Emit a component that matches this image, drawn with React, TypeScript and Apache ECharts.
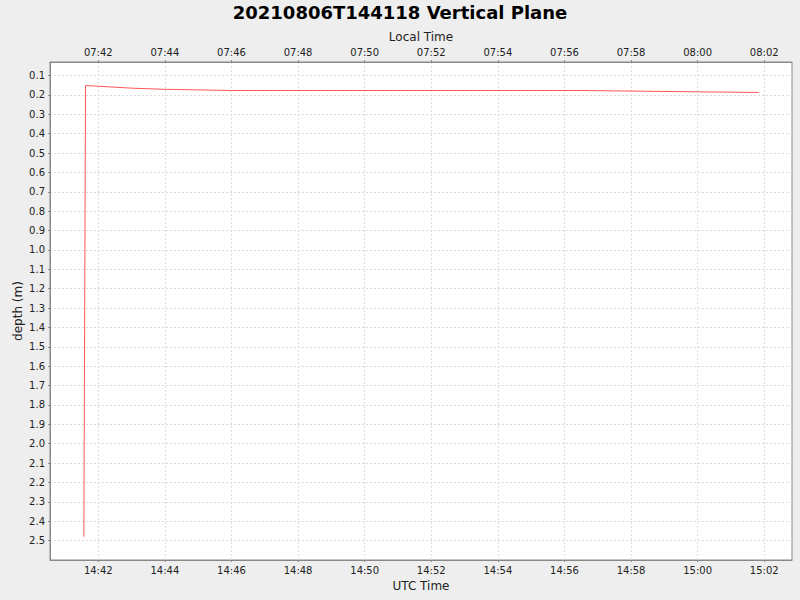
import React, { useEffect, useRef } from 'react';
import * as echarts from 'echarts';

// depth samples (UTC time, metres)
const sampleTimes = [
  '14:41:34', '14:41:37', '14:42:00', '14:43:00', '14:44:00', '14:45:00',
  '14:46:00', '14:56:30', '14:58:00', '15:00:00', '15:01:50',
];
const depths = [2.48, 0.152, 0.155, 0.165, 0.171, 0.174, 0.177, 0.177, 0.18, 0.184, 0.187];

const utcTicks = [
  '14:42', '14:44', '14:46', '14:48', '14:50', '14:52',
  '14:54', '14:56', '14:58', '15:00', '15:02',
];
const localTicks = [
  '07:42', '07:44', '07:46', '07:48', '07:50', '07:52',
  '07:54', '07:56', '07:58', '08:00', '08:02',
];
const depthTicks = [
  0.1, 0.2, 0.3, 0.4, 0.5, 0.6, 0.7, 0.8, 0.9, 1.0, 1.1, 1.2, 1.3,
  1.4, 1.5, 1.6, 1.7, 1.8, 1.9, 2.0, 2.1, 2.2, 2.3, 2.4, 2.5,
];

const xStart = '14:40:33';
const xEnd = '15:02:50';

const toSec = (t: string) => {
  const p = t.split(':').map(Number);
  return p[0] * 3600 + p[1] * 60 + (p[2] || 0);
};

const utcTickSecs = utcTicks.map(toSec);
const font = 'DejaVu Sans';

const App = () => {
  const chartRef = useRef<HTMLDivElement>(null);

  useEffect(() => {
    document.body.style.margin = '0';
    const chart = echarts.init(chartRef.current, null, { renderer: 'svg' });

    const gridLine = { show: true, lineStyle: { color: '#dcdcdc', type: [2, 2] as any, width: 1 } };
    const axisText = { fontFamily: font, fontSize: 10, color: '#222' };

    chart.setOption({
      animation: false,
      backgroundColor: '#eeeeee',
      textStyle: { fontFamily: font },
      title: {
        text: '20210806T144118 Vertical Plane',
        left: 'center',
        top: -2,
        textStyle: { fontFamily: font, fontSize: 18, fontWeight: 'bold', color: '#000' },
      },
      grid: {
        left: 50,
        right: 8,
        top: 62,
        bottom: 40,
        show: true,
        backgroundColor: '#ffffff',
        borderColor: '#888888',
        borderWidth: 1,
      },
      xAxis: [
        {
          type: 'value',
          position: 'bottom',
          min: toSec(xStart),
          max: toSec(xEnd),
          name: 'UTC Time',
          nameLocation: 'middle',
          nameMoveOverlap: false,
          nameGap: 20,
          nameTextStyle: { fontFamily: font, fontSize: 12, color: '#222' },
          axisLine: { lineStyle: { color: '#888888' } },
          axisTick: { length: 2, lineStyle: { color: '#888888' }, customValues: utcTickSecs },
          axisLabel: {
            ...axisText,
            margin: 5,
            customValues: utcTickSecs,
            formatter: (v: number) => utcTicks[utcTickSecs.indexOf(Math.round(v))] ?? '',
          },
          splitLine: gridLine,
        },
        {
          type: 'value',
          position: 'top',
          min: toSec(xStart),
          max: toSec(xEnd),
          name: 'Local Time',
          nameLocation: 'middle',
          nameMoveOverlap: false,
          nameGap: 19,
          nameTextStyle: { fontFamily: font, fontSize: 12, color: '#222' },
          axisLine: { lineStyle: { color: '#888888' } },
          axisTick: { length: 2, lineStyle: { color: '#888888' }, customValues: utcTickSecs },
          axisLabel: {
            ...axisText,
            margin: 5,
            customValues: utcTickSecs,
            formatter: (v: number) => localTicks[utcTickSecs.indexOf(Math.round(v))] ?? '',
          },
          splitLine: { show: false },
        },
      ],
      yAxis: {
        type: 'value',
        inverse: true,
        min: 0.03,
        max: 2.6,
        name: 'depth (m)',
        nameLocation: 'middle',
        nameMoveOverlap: false,
        nameGap: 26,
        nameTextStyle: { fontFamily: font, fontSize: 12, color: '#222' },
        axisLine: { show: true, lineStyle: { color: '#888888' } },
        axisTick: { show: true, length: 2, lineStyle: { color: '#888888' }, customValues: depthTicks },
        axisLabel: {
          ...axisText,
          margin: 5,
          customValues: depthTicks,
          formatter: (v: number) => v.toFixed(1),
        },
        splitLine: gridLine,
      },
      series: [
        {
          type: 'line',
          xAxisIndex: 0,
          data: sampleTimes.map((t, i) => [toSec(t), depths[i]]),
          showSymbol: false,
          symbol: 'none',
          lineStyle: { color: '#ff5555', width: 1 },
        },
      ],
    });

    return () => {
      chart.dispose();
    };
  }, []);

  return <div ref={chartRef} style={{ width: '800px', height: '600px' }} />;
};

export default App;
